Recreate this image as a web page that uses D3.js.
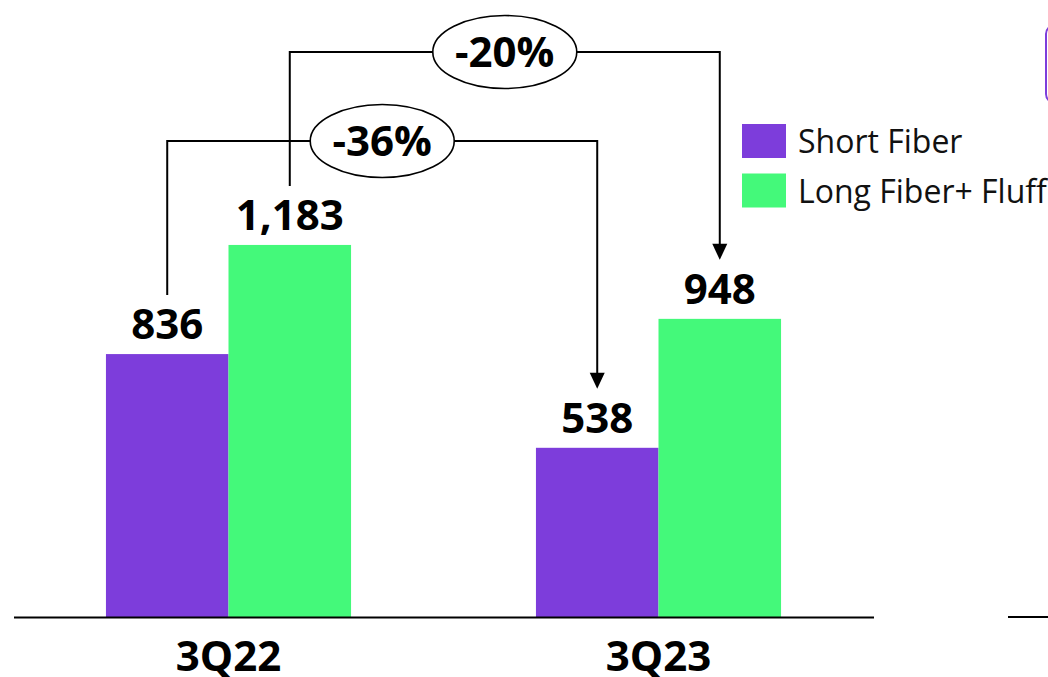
<!DOCTYPE html>
<html>
<head>
<meta charset="utf-8">
<script src="https://cdn.jsdelivr.net/npm/d3@7"></script>
<style>
  html, body { margin: 0; padding: 0; background: #fff; }
  svg { display: block; font-family: "Open Sans", "Noto Sans", sans-serif; }
</style>
</head>
<body>
<svg id="chart" width="1048" height="677"></svg>
<script>
// Quarterly volumes by fiber type
const categories = ["3Q22", "3Q23"];
const seriesNames = ["Short Fiber", "Long Fiber+ Fluff"];
const shortFiber = [836, 538];
const longFiberFluff = [1183, 948];
const unitLabel = "(000 tons)";

const colors = ["#7d3ddb", "#44f97a"];
const seriesValues = [shortFiber, longFiberFluff];

const svg = d3.select("#chart");
const baseY = 617;

const x = d3.scaleBand()
  .domain(categories)
  .range([13.5, 873.5])
  .paddingInner(0.43)
  .paddingOuter(0.215);

const xs = d3.scaleBand()
  .domain(seriesNames)
  .range([0, x.bandwidth()]);

const y = d3.scaleLinear()
  .domain([0, 1900])
  .range([baseY, baseY - 0.3145 * 1900]);

const fmt = d3.format(",");

// unit line, mostly above the visible area
svg.append("text")
  .attr("x", 505).attr("y", -5)
  .attr("text-anchor", "middle")
  .attr("font-size", 30)
  .attr("fill", "#8c8c8c")
  .text(unitLabel);

// bars
const rows = [];
categories.forEach((c, i) => {
  seriesNames.forEach((s, j) => rows.push({ cat: c, series: s, si: j, value: seriesValues[j][i] }));
});

svg.append("g").selectAll("rect")
  .data(rows)
  .join("rect")
  .attr("x", d => x(d.cat) + xs(d.series))
  .attr("y", d => y(d.value))
  .attr("width", xs.bandwidth())
  .attr("height", d => baseY - y(d.value))
  .attr("fill", d => colors[d.si]);

// value labels
const labelGap = 15;
svg.append("g").selectAll("text")
  .data(rows)
  .join("text")
  .attr("x", d => x(d.cat) + xs(d.series) + xs.bandwidth() / 2)
  .attr("y", d => y(d.value) - labelGap)
  .attr("text-anchor", "middle")
  .attr("font-size", 42)
  .attr("font-weight", 700)
  .attr("fill", "#000")
  .text(d => fmt(d.value));

// category axis
const axis = svg.append("g")
  .attr("transform", `translate(0,${baseY})`)
  .call(d3.axisBottom(x).tickSize(0).tickPadding(0));
axis.select(".domain").attr("stroke", "#000").attr("stroke-width", 2);
axis.selectAll(".tick text")
  .attr("dy", null)
  .attr("y", 54)
  .attr("font-family", "'Open Sans', sans-serif")
  .attr("font-size", 42)
  .attr("font-weight", 700)
  .attr("fill", "#000");

// change connectors between quarters
const levels = [141, 52];
const capH = 28, lineGap = 16;
seriesNames.forEach((s, j) => {
  const v0 = seriesValues[j][0], v1 = seriesValues[j][1];
  const x0 = x(categories[0]) + xs(s) + xs.bandwidth() / 2;
  const x1 = x(categories[1]) + xs(s) + xs.bandwidth() / 2;
  const y0 = y(v0) - labelGap - capH - lineGap;
  const y1 = y(v1) - labelGap - capH - lineGap;
  const lv = levels[j];
  const g = svg.append("g");
  g.append("path")
    .attr("d", `M${x0},${y0}V${lv}H${x1}V${y1 - 14}`)
    .attr("fill", "none")
    .attr("stroke", "#000")
    .attr("stroke-width", 2);
  g.append("path")
    .attr("d", `M${x1 - 7.5},${y1 - 16}L${x1 + 7.5},${y1 - 16}L${x1},${y1}Z`)
    .attr("fill", "#000");
  const cx = (x0 + x1) / 2;
  g.append("ellipse")
    .attr("cx", cx).attr("cy", lv)
    .attr("rx", 72).attr("ry", 36.5)
    .attr("fill", "#fff")
    .attr("stroke", "#000")
    .attr("stroke-width", 1.6);
  const pct = Math.round((v1 / v0 - 1) * 100);
  g.append("text")
    .attr("x", cx).attr("y", lv + 15)
    .attr("text-anchor", "middle")
    .attr("font-size", 42)
    .attr("font-weight", 700)
    .attr("fill", "#000")
    .text(`${pct}%`);
});

// legend
const legend = svg.append("g").attr("transform", "translate(742,124)");
seriesNames.forEach((s, j) => {
  const row = legend.append("g").attr("transform", `translate(0,${j * 49.5})`);
  row.append("rect").attr("width", 44).attr("height", 34).attr("fill", colors[j]);
  row.append("text")
    .attr("x", 56).attr("y", 29)
    .attr("font-size", 32)
    .attr("fill", "#111")
    .text(s);
});

// neighbouring panel edges
svg.append("rect")
  .attr("x", 1046).attr("y", 25)
  .attr("width", 80).attr("height", 78)
  .attr("rx", 9)
  .attr("fill", "none")
  .attr("stroke", "#7d3ddb")
  .attr("stroke-width", 2);
svg.append("line")
  .attr("x1", 1008).attr("x2", 1048)
  .attr("y1", baseY).attr("y2", baseY)
  .attr("stroke", "#000").attr("stroke-width", 2);
</script>
</body>
</html>
